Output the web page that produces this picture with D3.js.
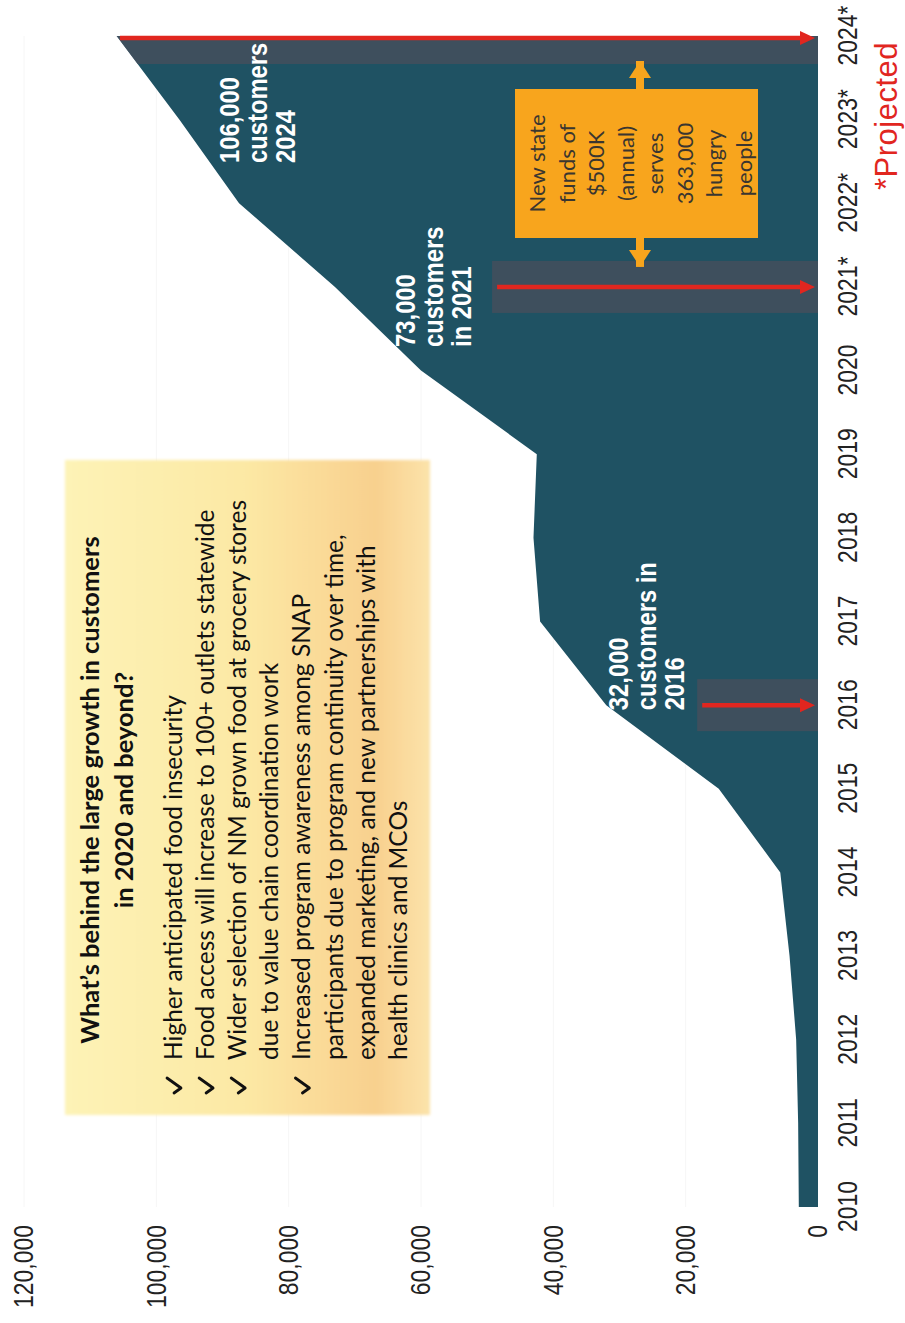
<!DOCTYPE html>
<html>
<head>
<meta charset="utf-8">
<script src="https://cdn.jsdelivr.net/npm/d3@7"></script>
<style>
  body { margin: 0; background: #fff; }
  svg { display: block; }
  .narrow { font-family: "Liberation Sans Narrow", "Arial Narrow", "Liberation Sans", Arial, sans-serif; }
  .calibri { font-family: Lato, "Open Sans", "Noto Sans", sans-serif; }
</style>
</head>
<body>
<div id="chart"></div>
<script>
// Data
const years = [2010, 2011, 2012, 2013, 2014, 2015, 2016, 2017, 2018, 2019, 2020, 2021, 2022, 2023, 2024];
const yearLabels = ["2010", "2011", "2012", "2013", "2014", "2015", "2016", "2017", "2018", "2019", "2020", "2021*", "2022*", "2023*", "2024*"];
const customers = [2900, 3000, 3300, 4300, 5700, 15000, 32000, 42000, 43000, 42500, 60000, 73000, 87500, 96500, 106000];
const valueTicks = [0, 20000, 40000, 60000, 80000, 100000, 120000];

const highlightYears = [2016, 2021, 2024];
const arrowStarts = [17500, 48500, 105500];
const calloutLines = [
  ["32,000", "customers in", "2016"],
  ["73,000", "customers", "in 2021"],
  ["106,000", "customers", "2024"]
];
const reasonsTitle = ["What\u2019s behind the large growth in customers", "in 2020 and beyond?"];
const reasons = [
  { text: "Higher anticipated food insecurity", check: true },
  { text: "Food access will increase to 100+ outlets statewide", check: true },
  { text: "Wider selection of NM grown food at grocery stores", check: true },
  { text: "due to value chain coordination work", check: false },
  { text: "Increased program awareness among SNAP", check: true },
  { text: "participants due to program continuity over time,", check: false },
  { text: "expanded marketing, and new partnerships with", check: false },
  { text: "health clinics and MCOs", check: false }
];
const fundsLines = ["New state", "funds of", "$500K", "(annual)", "serves", "363,000", "hungry", "people"];

const width = 905, height = 1323;
const teal = "#1f5263", red = "#e1261f", orange = "#f8a51d";

// no narrow font installed, so squeeze the text sideways around its anchor
const condense = (sel, k) => sel.attr("transform", function() {
  const x = +this.getAttribute("x") || 0;
  return `translate(${x},0) scale(${k},1) translate(${-x},0)`;
});

const svg = d3.select("#chart")
  .append("svg")
    .attr("width", width)
    .attr("height", height);

// whole chart is drawn sideways, then turned a quarter to the left
const chart = svg.append("g")
  .attr("transform", `translate(0, ${height}) rotate(-90)`);

const xScale = d3.scalePoint()
  .domain(years)
  .range([116, 1287]);

const yScale = d3.scaleLinear()
  .domain([0, 120000])
  .range([818, 24]);

const series = years.map((y, i) => ({ year: y, value: customers[i] }));

const defs = svg.append("defs");

// faint grid
chart.append("g")
  .selectAll("line")
  .data(valueTicks.slice(1))
  .join("line")
    .attr("x1", 116)
    .attr("x2", 1287)
    .attr("y1", d => yScale(d))
    .attr("y2", d => yScale(d))
    .attr("stroke", "#f6f6f6");

// area
const areaGenerator = d3.area()
  .x(d => xScale(d.year))
  .y0(yScale(0))
  .y1(d => yScale(d.value));

chart.append("path")
  .datum(series)
  .attr("d", areaGenerator)
  .attr("fill", teal);

defs.append("clipPath")
    .attr("id", "area-clip")
  .append("path")
    .attr("d", areaGenerator(series));

// highlight bands + red arrows
const highlights = highlightYears.map((yr, i) => ({
  year: yr,
  start: arrowStarts[i],
  pos: xScale(yr) + (yr === 2024 ? -2 : 0)
}));

chart.append("g")
    .attr("clip-path", "url(#area-clip)")
  .selectAll("rect")
  .data(highlights)
  .join("rect")
    .attr("x", d => d.pos - 26)
    .attr("width", 52)
    .attr("y", d => yScale(d.start) - 5)
    .attr("height", d => yScale(0) - yScale(d.start) + 5)
    .attr("fill", "#4b4e5b")
    .attr("fill-opacity", 0.72);

const arrows = chart.append("g");
arrows.selectAll("line")
  .data(highlights)
  .join("line")
    .attr("x1", d => d.pos)
    .attr("x2", d => d.pos)
    .attr("y1", d => yScale(d.start))
    .attr("y2", yScale(0) - 14)
    .attr("stroke", red)
    .attr("stroke-width", 4.5);
arrows.selectAll("path")
  .data(highlights)
  .join("path")
    .attr("d", d => {
      const tip = yScale(0) - 3;
      return `M${d.pos - 7},${tip - 15}L${d.pos + 7},${tip - 15}L${d.pos},${tip}Z`;
    })
    .attr("fill", red);

// callout labels inside the area
const calloutPlace = [
  { u: xScale(2016) - 5, v: yScale(32000) + 22 },
  { u: xScale(2021) - 60, v: yScale(73000) + 80 },
  { u: xScale(2024) - 127, v: yScale(106000) + 122 }
];
calloutLines.forEach((lines, i) => {
  const t = chart.append("text")
    .attr("class", "narrow")
    .attr("x", calloutPlace[i].u)
    .attr("fill", "#fff")
    .attr("font-weight", "bold")
    .style("font-size", "28px");
  lines.forEach((line, j) => {
    t.append("tspan")
      .attr("x", calloutPlace[i].u)
      .attr("y", calloutPlace[i].v + j * 28)
      .text(line);
  });
  condense(t, 0.85);
});

// orange note with double arrow
const noteV = 640;
const noteBox = { u0: 1085, u1: 1234, v0: 515, v1: 758 };
const noteArrow = chart.append("g").attr("fill", orange);
noteArrow.append("rect")
  .attr("x", xScale(2021) + 20)
  .attr("width", xScale(2024) - 25 - xScale(2021) - 20)
  .attr("y", noteV - 4)
  .attr("height", 8);
noteArrow.append("path")
  .attr("d", `M${xScale(2024) - 25},${noteV}l-17,-11v22Z`);
noteArrow.append("path")
  .attr("d", `M${xScale(2021) + 20},${noteV}l17,-11v22Z`);

chart.append("rect")
  .attr("x", noteBox.u0)
  .attr("y", noteBox.v0)
  .attr("width", noteBox.u1 - noteBox.u0)
  .attr("height", noteBox.v1 - noteBox.v0)
  .attr("fill", orange);

const noteText = chart.append("text")
  .attr("class", "calibri")
  .attr("text-anchor", "middle")
  .attr("fill", "#3a3630")
  .style("font-size", "22px");
fundsLines.forEach((line, j) => {
  noteText.append("tspan")
    .attr("x", (noteBox.u0 + noteBox.u1) / 2)
    .attr("y", 545 + j * 29.5)
    .text(line);
});

// yellow reasons box
const grad = defs.append("linearGradient")
  .attr("id", "yellow-grad")
  .attr("x1", 0).attr("y1", 0).attr("x2", 0).attr("y2", 1);
grad.append("stop").attr("offset", 0).attr("stop-color", "#fdf3b6");
grad.append("stop").attr("offset", 0.5).attr("stop-color", "#fce8a4");
grad.append("stop").attr("offset", 0.85).attr("stop-color", "#f8d08e");
grad.append("stop").attr("offset", 1).attr("stop-color", "#fbe3aa");

defs.append("filter")
    .attr("id", "soft")
  .append("feGaussianBlur")
    .attr("stdDeviation", 1.5);

chart.append("rect")
  .attr("x", 208)
  .attr("y", 65)
  .attr("width", 655)
  .attr("height", 365)
  .attr("fill", "url(#yellow-grad)")
  .attr("filter", "url(#soft)");

const title = chart.append("text")
  .attr("class", "calibri")
  .attr("text-anchor", "middle")
  .attr("font-weight", "bold")
  .attr("fill", "#111")
  .style("font-size", "25.5px");
reasonsTitle.forEach((line, j) => {
  title.append("tspan")
    .attr("x", 533)
    .attr("y", 99 + j * 34)
    .text(line);
});

const reasonRows = chart.append("g")
  .selectAll("g")
  .data(reasons)
  .join("g")
    .attr("transform", (d, i) => `translate(0, ${182 + i * 32.1})`);
reasonRows.append("text")
  .attr("class", "calibri")
  .attr("x", 263)
  .attr("fill", "#111")
  .style("font-size", "24.5px")
  .text(d => d.text);
// check marks drawn as small strokes
reasonRows.filter(d => d.check)
  .append("path")
    .attr("d", "M230,-8L235,-1L245,-15")
    .attr("fill", "none")
    .attr("stroke", "#111")
    .attr("stroke-width", 2.8)
    .attr("stroke-linecap", "round")
    .attr("stroke-linejoin", "round");

// axes
const bottomAxis = d3.axisBottom(xScale)
  .tickSize(0)
  .tickPadding(19)
  .tickFormat((d, i) => yearLabels[i]);
chart.append("g")
    .attr("transform", `translate(0, ${yScale(0)})`)
    .call(bottomAxis)
    .call(g => g.select(".domain").remove())
  .selectAll("text")
    .attr("class", "narrow")
    .attr("fill", "#222")
    .style("font-size", "28px")
    .call(condense, 0.82);

const leftAxis = d3.axisLeft(yScale)
  .tickValues(valueTicks)
  .tickSize(0)
  .tickPadding(18)
  .tickFormat(d3.format(","));
chart.append("g")
    .attr("transform", "translate(116, 0)")
    .call(leftAxis)
    .call(g => g.select(".domain").remove())
  .selectAll("text")
    .attr("class", "narrow")
    .attr("fill", "#222")
    .style("font-size", "28px")
    .call(condense, 0.82);

chart.append("text")
  .attr("class", "narrow")
  .attr("x", 1133)
  .attr("y", 897)
  .attr("fill", red)
  .style("font-size", "31px")
  .style("letter-spacing", "0.5px")
  .text("*Projected");
</script>
</body>
</html>
